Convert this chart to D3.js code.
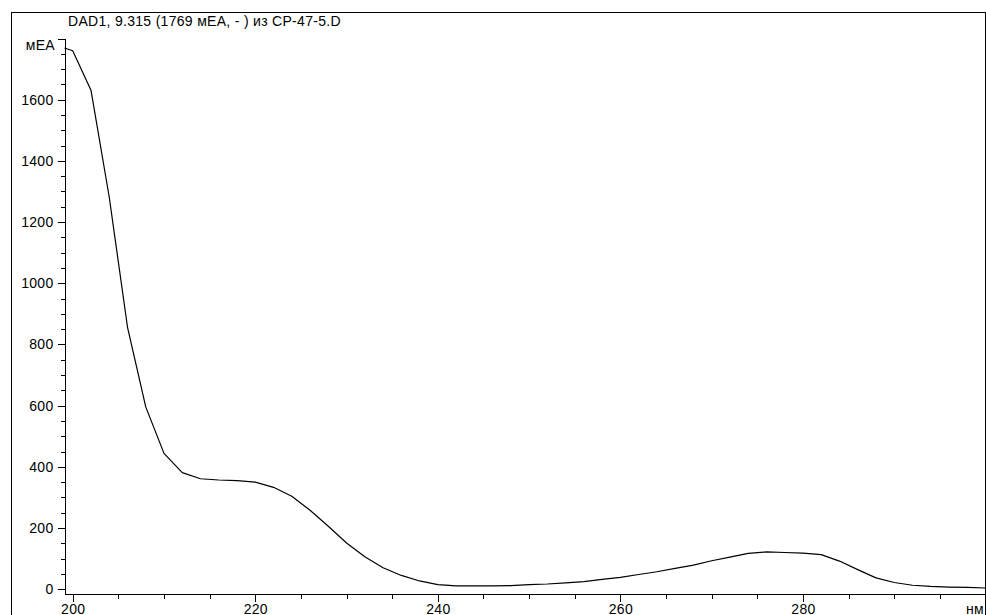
<!DOCTYPE html>
<html>
<head>
<meta charset="utf-8">
<script src="https://cdn.jsdelivr.net/npm/d3@7/dist/d3.min.js"></script>
<style>
  html, body { margin: 0; padding: 0; background: #fff; }
  svg { display: block; }
  text { font-family: "Liberation Sans", Arial, sans-serif; font-size: 14px; letter-spacing: 0.3px; fill: #000; }
</style>
</head>
<body>
<svg id="chart" width="986" height="615"></svg>
<script>
// UV absorbance spectrum, DAD1 signal at 9.315 min
const title = "DAD1, 9.315 (1769 мEA, - ) из CP-47-5.D";
const yUnit = "мEA";
const xUnit = "нм";

const wavelengths = [199.1, 200, 202, 204, 206, 208, 210, 212, 214, 216, 218, 220, 222, 224, 226, 228,
  230, 232, 234, 236, 238, 240, 242, 244, 246, 248, 250, 252, 254, 256, 258, 260, 262, 264, 266, 268,
  270, 272, 274, 276, 278, 280, 282, 284, 286, 288, 290, 292, 294, 296, 298, 300];
const absorbance = [1769, 1760, 1631, 1282, 857, 596, 444, 381, 361, 357, 355, 350, 333, 304, 258, 206,
  151, 106, 70, 45, 27, 15, 11, 11, 11, 12, 15, 17, 21, 25, 32, 39, 48, 57, 68, 79,
  93, 105, 117, 122, 120, 118, 113, 92, 64, 37, 22, 13, 9, 7, 6, 4];

const xMajorTicks = [200, 220, 240, 260, 280];
const yMajorTicks = [0, 200, 400, 600, 800, 1000, 1200, 1400, 1600];
const yTopTick = 1800;

const svg = d3.select("#chart");

const x = d3.scaleLinear().domain([199.1, 300]).range([64.5, 985.5]);
const y = d3.scaleLinear().domain([-14, 1800]).range([593.5, 38.5]);

// outer frame
svg.append("path")
  .attr("d", "M11.5,640 V12.5 H985.5 V640")
  .attr("fill", "none").attr("stroke", "#000").attr("stroke-width", 1)
  .attr("shape-rendering", "crispEdges");

// title
svg.append("text").attr("x", 68).attr("y", 26).text(title);

// minor ticks
const xMinor = d3.range(205, 300, 5).filter(v => v % 20 !== 0);
const yMinor = d3.range(50, 1800, 50).filter(v => v % 200 !== 0);

const xAxisG = svg.append("g").attr("transform", "translate(0,593.5)");
xAxisG.call(d3.axisBottom(x).tickValues(xMinor).tickSize(5).tickSizeOuter(0).tickFormat(""));
const xMajorG = svg.append("g").attr("transform", "translate(0,593.5)");
xMajorG.call(d3.axisBottom(x).tickValues(xMajorTicks).tickSize(8).tickSizeOuter(0).tickPadding(4));
xMajorG.selectAll(".tick text")
  .attr("dy", null).attr("y", 20)
  .style("font-family", "'Liberation Sans', Arial, sans-serif").style("font-size", "14px");

const yAxisG = svg.append("g").attr("transform", "translate(64.5,0)");
yAxisG.call(d3.axisLeft(y).tickValues(yMinor).tickSize(4).tickSizeOuter(0).tickFormat(""));
const yMajorG = svg.append("g").attr("transform", "translate(64.5,0)");
yMajorG.call(d3.axisLeft(y).tickValues(yMajorTicks.concat([yTopTick])).tickSize(7).tickSizeOuter(0)
  .tickPadding(4).tickFormat(d => d === yTopTick ? "" : d));
yMajorG.selectAll(".tick text")
  .style("font-family", "'Liberation Sans', Arial, sans-serif").style("font-size", "14px");

[xAxisG, xMajorG, yAxisG, yMajorG].forEach(g => {
  g.selectAll("path, line").attr("stroke", "#000").attr("shape-rendering", "crispEdges");
});

// axis unit labels
svg.append("text").attr("x", 984).attr("y", 613.5).attr("text-anchor", "end").text(xUnit);
svg.append("text").attr("x", 55).attr("y", 50).attr("text-anchor", "end").text(yUnit);

// spectrum trace
const line = d3.line().x((d, i) => x(wavelengths[i])).y(d => y(d));
svg.append("path")
  .datum(absorbance)
  .attr("d", line)
  .attr("fill", "none")
  .attr("stroke", "#000")
  .attr("stroke-width", 1.2)
  .attr("stroke-linejoin", "round");
</script>
</body>
</html>
